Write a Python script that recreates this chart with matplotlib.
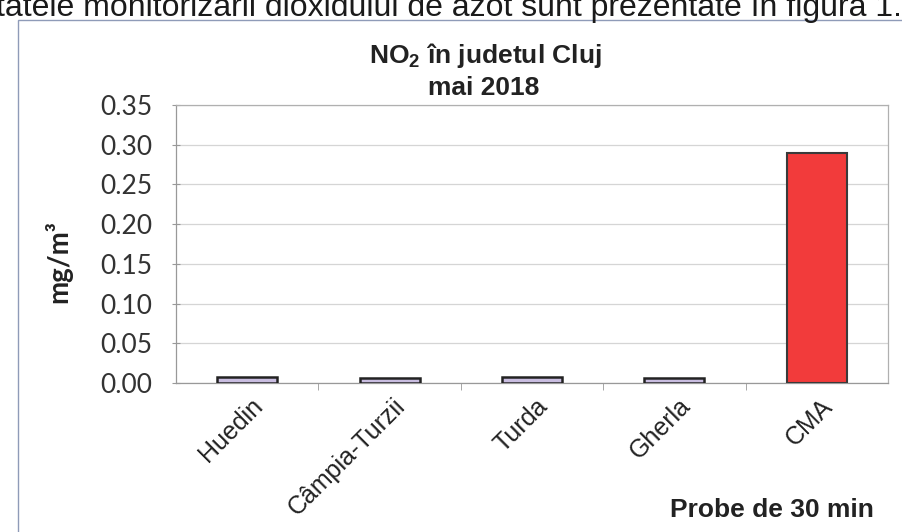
import matplotlib.pyplot as plt
import matplotlib.transforms as mtransforms
from matplotlib.patches import Rectangle

plt.rcParams['mathtext.fontset'] = 'custom'
plt.rcParams['mathtext.rm'] = 'Liberation Sans'
plt.rcParams['mathtext.bf'] = 'Liberation Sans:bold'

# date NO2, mai 2018
statii = ["Huedin", "Câmpia-Turzii", "Turda", "Gherla", "CMA"]
no2 = [0.007, 0.006, 0.008, 0.006, 0.289]
culori = ["#c9bde0", "#c9bde0", "#c9bde0", "#c9bde0", "#f23b3b"]
y_ticks = [0.00, 0.05, 0.10, 0.15, 0.20, 0.25, 0.30, 0.35]

W, H = 903, 532
fig = plt.figure(figsize=(W / 100, H / 100), dpi=100)
ax = fig.add_axes([176 / W, 1 - 383 / H, (888 - 176) / W, (383 - 105) / H])

# text din pagina (taiat sus, ca in scanare)
fig.text(-4 / W, 1 - 16 / H, "tatele monitorizării dioxidului de azot sunt prezentate în figura 1.",
         fontsize=23, family="Liberation Sans", color="#1a1a1a", ha="left", va="baseline")

# chenarul graficului
fig.patches.append(Rectangle((18 / W, -0.05), 1.0, 1 - 20 / H + 0.05, transform=fig.transFigure,
                             fill=False, edgecolor="#8f9bb8", linewidth=1.0))

x = range(len(statii))
for i, (v, c) in enumerate(zip(no2, culori)):
    ec = "#222222" if i < 4 else "#3a3a3a"
    lw = 1.8 if i < 4 else 1.5
    ax.bar(i, v, width=0.42, color=c, edgecolor=ec, linewidth=lw, zorder=3)

ax.set_xlim(-0.5, len(statii) - 0.5)
ax.set_ylim(0, 0.35)
ax.set_yticks(y_ticks)
ax.set_yticklabels([f"{t:.2f}" for t in y_ticks], family="Lato", fontsize=19, color="#333333")
ax.yaxis.grid(True, color="#d5d5d5", linewidth=0.9)
ax.set_axisbelow(True)

for s in ax.spines.values():
    s.set_color("#b0b0b0")
    s.set_linewidth(0.9)
ax.spines["left"].set_color("#999999")
ax.spines["bottom"].set_color("#999999")

ax.tick_params(axis="y", direction="inout", length=6, color="#999999", pad=14)
ax.set_xticks(list(x))
ax.set_xticklabels(statii, rotation=45, ha="right", va="center", rotation_mode="anchor",
                   family="Liberation Sans", fontsize=18, color="#222222")
ax.tick_params(axis="x", length=0, pad=14)
ax.set_xticks([i + 0.5 for i in range(len(statii) - 1)], minor=True)
ax.tick_params(axis="x", which="minor", length=5, color="#999999", direction="out")
offset = mtransforms.ScaledTranslation(0.12, 0, fig.dpi_scale_trans)
for lab in ax.get_xticklabels():
    lab.set_transform(lab.get_transform() + offset)

fig.text(485 / W, 1 - 55 / H, r"NO$_{\mathbf{2}}$ în judetul Cluj", family="Liberation Sans",
         fontweight="bold", fontsize=19, ha="center", va="center", color="#222222")
fig.text(484 / W, 1 - 88 / H, "mai 2018", family="Liberation Sans",
         fontweight="bold", fontsize=19, ha="center", va="center", color="#222222")
fig.text(58 / W, 1 - 262 / H, "mg/m³", family="Lato", fontweight="bold", fontsize=20,
         rotation=90, ha="center", va="center", color="#222222")
fig.text(772 / W, 1 - 510 / H, "Probe de 30 min", family="Liberation Sans",
         fontweight="bold", fontsize=19, ha="center", va="center", color="#222222")

fig.savefig("out.png", dpi=100)
